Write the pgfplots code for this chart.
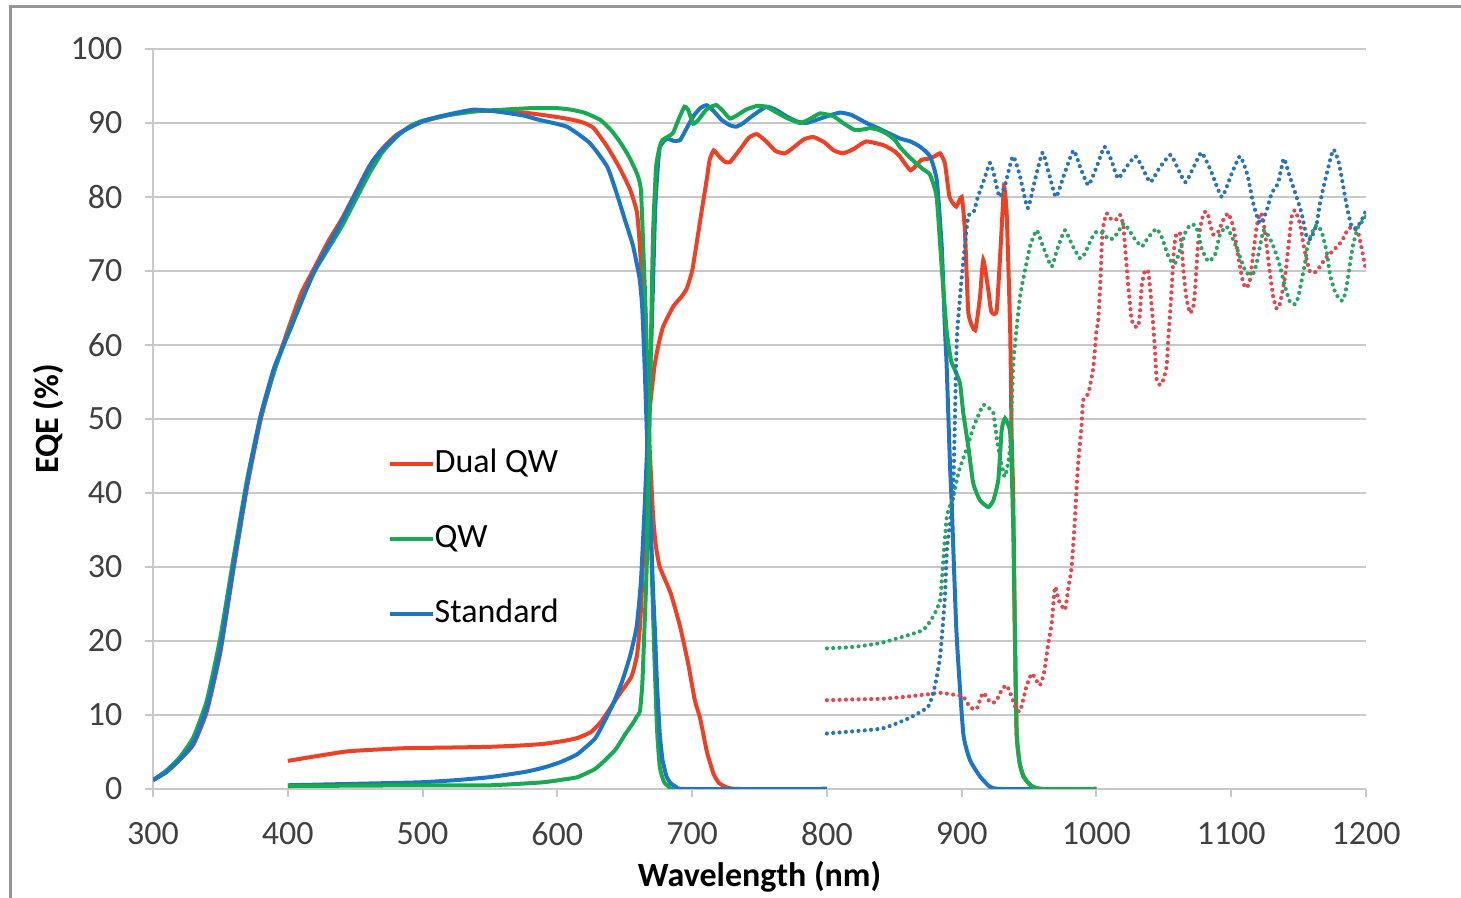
\documentclass[border=0pt]{standalone}
\usepackage{pgfplots}
\pgfplotsset{compat=1.18}
\usepackage{fontspec}
\setmainfont{Carlito}
\definecolor{cred}{RGB}{238,64,36}
\definecolor{cgreen}{RGB}{24,170,80}
\definecolor{cblue}{RGB}{28,118,196}
\definecolor{dred}{RGB}{228,70,80}
\definecolor{dgreen}{RGB}{40,165,100}
\definecolor{dblue}{RGB}{40,115,185}
\definecolor{gridc}{RGB}{200,200,200}
\definecolor{borderc}{RGB}{150,150,150}
\definecolor{labc}{RGB}{64,64,64}
\begin{document}
\begin{tikzpicture}
\useasboundingbox (0,0) rectangle (438.3pt,269.4pt);
\begin{scope}
\clip (0,0) rectangle (438.3pt,269.4pt);
\draw[draw=borderc, line width=0.9pt] (3pt,-10pt) rectangle (460pt,267.3pt);
\end{scope}
\begin{axis}[
  at={(45.9pt,32.7pt)}, anchor=south west,
  scale only axis, width=363.9pt, height=222pt,
  xmin=300, xmax=1200, ymin=0, ymax=100,
  xtick={300,400,...,1200}, ytick={0,10,...,100},
  axis lines=left, axis line style={-, draw=gridc, line width=0.6pt},
  ymajorgrids, grid style={draw=gridc, line width=0.6pt},
  tick align=outside, major tick length=2.4pt,
  tick style={draw=gridc, line width=0.6pt},
  /pgf/number format/assume math mode=true,
  /pgf/number format/set thousands separator={},
  ticklabel style={font=\fontsize{10.2}{12}\selectfont, text=labc},
  yticklabel style={inner sep=0pt, xshift=-6.6pt},
  xticklabel style={inner sep=0pt, yshift=-7.5pt},
  xlabel={\textbf{Wavelength (nm)}}, ylabel={\textbf{EQE (\%)}},
  label style={font=\fontsize{10.2}{12}\selectfont},
  xlabel style={at={(axis description cs:0.5,0)}, anchor=center, yshift=-26.2pt},
  ylabel style={at={(axis description cs:-0.0866,0.5)}, anchor=center},
  legend cell align=left,
  legend style={draw=none, fill=none, at={(0.1847,0.4695)}, anchor=north west,
    font=\fontsize{10.2}{12}\selectfont,
    nodes={inner sep=0pt, text height=7pt, text depth=2pt},
    row sep=13.5pt, column sep=0pt},
  legend image code/.code={\draw[#1, line width=1.2pt] (0pt,0pt) -- (12.9pt,0pt);},
  every axis plot/.append style={line width=1.2pt, smooth, tension=0.3},
  dots/.style={line width=1.25pt, line cap=round, dash pattern=on 0pt off 1.9pt},
]
\addlegendimage{cred}\addlegendentry{Dual QW}
\addlegendimage{cgreen}\addlegendentry{QW}
\addlegendimage{cblue}\addlegendentry{Standard}

% top cells
\addplot[cred, forget plot] coordinates {(300,1.2)(310,2.3)(320,4.0)(330,6.0)(340,10.5)(350,18.5)(360,30)(370,41)(380,50)(390,56.5)(400,62)(410,67)(420,70.5)(430,74)(440,77)(450,80.5)(460,84)(470,86.5)(480,88.3)(490,89.4)(500,90.2)(520,91.1)(540,91.6)(560,91.6)(580,91.3)(600,90.8)(612,90.4)(620,90.0)(627,89.3)(637,86.8)(646,84)(654,81)(659,78)(661,74)(663,68)(665,62)(668,48)(671,37)(673,33)(676,30)(684,26.5)(691,22)(697,17)(702,12)(706,9.5)(711,5)(716,2)(720,0.8)(726,0.2)(735,0)(800,0)};
\addplot[cgreen, forget plot] coordinates {(300,1.2)(310,2.5)(320,4.3)(330,7)(340,12)(350,20.5)(360,31.5)(370,42)(380,50.5)(390,56.5)(400,61.5)(410,66)(420,70)(430,73)(440,76)(450,79.5)(460,83)(470,86)(480,88)(490,89.5)(500,90.3)(520,91.1)(540,91.6)(560,91.8)(580,92)(600,92)(610,91.8)(620,91.4)(632,90.4)(640,89)(647,87.3)(653,85.5)(659,83.2)(662,81)(664,72)(666,62)(668,45)(670,30)(672,18)(674,8)(676,3)(679,1)(683,0.3)(690,0)(800,0)};
\addplot[cblue, forget plot] coordinates {(300,1.2)(310,2.3)(320,4)(330,6.2)(340,11)(350,19)(360,30.5)(370,41.5)(380,50.5)(390,57)(401.6,62)(419,69.7)(439,76.4)(463.5,85)(483,88.6)(500,90.2)(513,90.9)(537.6,91.8)(557,91.5)(575,91)(587,90.4)(607,89.5)(624,87.3)(637,84.1)(644,80.5)(650,77)(656,73.5)(661,69)(663,65)(665,56)(667,45)(669,37)(671,27)(672.5,21)(674,14)(676,7.5)(678,4)(681,1.7)(684,0.8)(688,0.3)(695,0)(800,0)};

% bottom cells
\addplot[cred, forget plot] coordinates {(400,3.8)(420,4.4)(445,5.1)(485,5.5)(520,5.6)(550,5.7)(575,5.9)(590,6.1)(605,6.5)(615,6.9)(625,7.7)(632,9)(637,10.3)(646,12.8)(655,15.2)(659,18)(661.3,21.9)(663,28)(664,33)(666.3,39)(668,50)(672,57)(675,60)(678.5,62.5)(686,65.2)(692,66.5)(696,67.6)(700,70)(703,73.3)(707,78)(710.8,82.3)(713,85)(716,86.3)(720,85.5)(724,84.8)(728,84.7)(735,86.3)(742,88)(748,88.5)(755,87.5)(762,86.2)(769,85.9)(776,86.8)(783,87.8)(790,88.1)(798,87.4)(805,86.3)(812,85.9)(820,86.5)(829,87.5)(842,87)(850,86.2)(854,85.5)(858,84.5)(862,83.6)(866,84.2)(870,85)(876,85.2)(880,85.5)(884,85.9)(887.6,84.5)(891,80)(896,78.7)(900,80)(902.4,75.5)(905,64.3)(910,62)(913.6,66.5)(916,71.5)(919.8,67.4)(922,64.5)(926,64.7)(929.6,75.5)(931.4,81.4)(933.4,77.8)(936,62)(937,48.5)(938.3,39)(939.5,21)(940.8,7.5)(943,3.5)(946,1.7)(950,0.7)(953,0.3)(960,0)(1000,0)};
\addplot[cblue, forget plot] coordinates {(400,0.5)(450,0.7)(497.7,0.9)(525,1.2)(549.7,1.6)(575.8,2.3)(590,2.9)(601.8,3.6)(614.8,4.7)(627.9,6.8)(634,8.8)(640.9,11.3)(648,14.5)(654,18)(658.8,21.9)(662,28)(665,39)(667.5,50)(670,62)(672.5,77.8)(674.5,84)(676.2,86.8)(681.2,87.9)(686,87.6)(691.1,87.7)(696,89.3)(700.9,90.9)(706,92)(710.8,92.4)(716,91.6)(722,90.4)(728,89.7)(732.8,89.5)(738,90)(745,91)(755.1,92.2)(762,91.8)(770,90.9)(778,90.2)(784.8,90)(792,90.4)(800,90.9)(809.7,91.4)(818,91.1)(829.4,90)(838,89.3)(846,88.6)(854.3,87.9)(862,87.5)(869.1,86.8)(876.5,85.5)(881.5,82.3)(885.2,73.3)(887.6,62)(888.8,57.5)(891.3,44)(892.5,39)(896.2,21)(901.2,7.5)(906.2,3.9)(913.6,1.7)(921,0.3)(930,0)(1000,0)};
\addplot[cgreen, forget plot] coordinates {(400,0.4)(450,0.45)(500,0.5)(550,0.5)(589,0.9)(605,1.3)(615,1.6)(628,2.7)(636,4)(643.5,5.4)(650,7.3)(656.5,9)(659,9.8)(661.3,10.5)(663,14)(664.3,20)(666.3,30)(668,45)(669.6,62)(671,75)(673.3,84.1)(676,86.8)(678,87.7)(685.6,88.6)(690,90.5)(694.3,92.2)(697,91.8)(700.9,89.9)(705,90.5)(710,91.7)(714,92.2)(718.2,92.4)(723,91.6)(728,90.6)(733,91)(740,91.8)(748,92.3)(755,92.2)(762,91.5)(770,90.7)(780,90)(787,90.5)(795,91.3)(805,90.9)(812,90)(820,89.1)(826,89.1)(832,89.3)(838,89.1)(844,88.6)(850,87.8)(854,86.8)(860,85.6)(866.6,84.5)(871,83.8)(876.5,83)(881.4,80)(885,71)(888.8,62)(892,58)(895,56.6)(898.8,54.8)(901.2,50.8)(904.9,46.3)(908.6,41.3)(913.6,39)(919.8,38.1)(923.5,39)(927.2,41.8)(929.7,48.5)(932.1,50.1)(935.8,48.5)(937,44)(938.3,35)(939.5,21)(940.8,7.5)(943,3.5)(945.7,1.7)(950,0.7)(953,0.3)(960,0)(1000,0)};

% dotted
\addplot[dred, dots, forget plot] coordinates {(800,12)(820,12.1)(842,12.2)(860,12.5)(875,12.8)(884,13)(892,12.8)(901,12.5)(906,11.1)(911,10.8)(915.8,13)(920,12)(923,11.6)(926,12)(930,13.5)(933.3,14)(936,13)(940,11)(943.3,10.5)(948,13.8)(951.9,15.6)(955,14.8)(958,14)(961,15.6)(964.3,19.7)(966.8,22.4)(969.2,27.3)(972,25.5)(976.6,24.2)(979,27)(981.6,30)(984,36.4)(986,43)(989,49.2)(990,52.5)(994,53.5)(997.7,57)(1000,62)(1001.2,63)(1003,68.8)(1003.9,73.3)(1005,76)(1007.6,77.8)(1011.3,76.9)(1015,77)(1017.5,77.6)(1019.9,76.2)(1021.2,73.3)(1022.4,70.6)(1023.6,67.9)(1024.9,65.6)(1026.1,63.4)(1028.6,62.5)(1031,62.5)(1032.3,64.3)(1033.5,67.9)(1036,70.1)(1038.4,69.9)(1039.7,67.9)(1041,65.2)(1042.2,62.5)(1043.5,59)(1044.7,55.3)(1047,54.6)(1049,55)(1052,57)(1053.4,61.1)(1054.6,64.3)(1055.9,67.9)(1057.1,71.9)(1058.3,74.2)(1059.6,75.1)(1062,75.1)(1063.2,73.3)(1064.5,70.1)(1065.7,67.9)(1067,66.1)(1069.4,64.3)(1071.9,65.2)(1073.1,67.4)(1074.4,71)(1075.6,74.2)(1078.1,76.9)(1080.6,78)(1082.5,77.8)(1084.2,76.4)(1086.7,74.9)(1090.4,75.3)(1094.1,76.9)(1097.8,77.8)(1101.5,76)(1104,73.3)(1106.5,70.6)(1109,68.3)(1111.4,67.7)(1113.9,68.8)(1116.4,72.4)(1118.9,76)(1121.3,77.8)(1123.5,77.2)(1126.2,73.5)(1128.7,69.7)(1131.2,66.5)(1133.7,64.9)(1136.2,65.6)(1139.9,69.2)(1142.4,73.3)(1144.8,77.3)(1147.3,78.2)(1151,76.4)(1153.5,73.7)(1156,71.5)(1158.4,69.9)(1162,69.8)(1165.8,70.6)(1170.8,71.9)(1177,73)(1181.9,74)(1186.8,75.7)(1190.5,75.9)(1194.3,75.1)(1196.8,73)(1199.2,70.8)(1200,70.5)};
\addplot[dgreen, dots, forget plot] coordinates {(800,19)(820,19.2)(839,19.7)(855,20.5)(871.5,21.5)(878.8,23.3)(884,25.5)(886,30)(889,36.8)(893.7,39.5)(898,43)(903.7,46)(908,48.5)(911,49.9)(916,51.9)(920,51.5)(923.5,50.8)(927,46.2)(932,42.2)(936,46.2)(938.3,57.5)(943.3,66.5)(948,71)(951,73.5)(955.6,75.5)(960,73.5)(966.7,70.6)(971,73)(976.6,75.5)(982,73.5)(987.8,71.7)(991.5,72.4)(996.4,74.4)(1000,75.3)(1005,75.1)(1008.8,74.3)(1012.5,74.4)(1016.2,75.3)(1019.9,76.4)(1023.6,75.7)(1027.3,74.6)(1033.5,73.3)(1037.2,74.2)(1041,75.1)(1044.7,75.7)(1048.4,74.6)(1052.1,72.6)(1054.6,71.5)(1058.3,71)(1062,72.8)(1065.7,75.1)(1069.4,76.2)(1073.1,76.2)(1075.6,75.1)(1078.1,73)(1083,71.3)(1088,72.2)(1091.6,74.9)(1096.6,76)(1101.5,74.2)(1105.2,72.6)(1107.7,71.3)(1111.4,69.7)(1116.4,69.7)(1118.8,71)(1121.3,73.3)(1123.8,75.5)(1126,75.2)(1128.7,74.4)(1132.4,72.8)(1136.2,70.6)(1139.9,67.9)(1143.6,65.8)(1147.3,65.5)(1149.8,66.5)(1152.3,68.8)(1154.7,71)(1156.5,73.3)(1159.7,75.1)(1163.4,76.2)(1167.1,75.3)(1170.8,72.6)(1173.3,69.5)(1177,67.2)(1180.7,66.1)(1183.2,66.1)(1185.6,67.9)(1188.1,71)(1190.6,73.7)(1194.3,76)(1199.2,77.1)(1200,77.5)};
\addplot[dblue, dots, forget plot] coordinates {(800,7.5)(820,7.8)(841.6,8.2)(860,9.5)(875,11.1)(880,13.8)(884,17.9)(887.6,26)(889,32.3)(891.5,36)(893.7,40)(896.3,60.2)(899,67)(901,71)(904.8,77.3)(909,78)(912,80)(915.8,81.9)(921,84.6)(924,83)(928,80)(932,81.5)(938,85.5)(943,83)(949,78.5)(954,82)(960,86)(965,83)(970,80)(976,83)(983,86.3)(988,84)(994,81.6)(1000,84)(1006,86.8)(1011,85)(1016,82.5)(1022,84)(1029,85.5)(1034,84)(1040,82)(1047,84)(1055,85.7)(1060,84)(1066,82)(1072,84)(1078,86)(1085,83.5)(1093,80)(1100,83)(1106.5,85.5)(1112,83)(1116.4,79.1)(1121.3,76.4)(1126,78)(1130,80.5)(1134.8,81.9)(1139,85.2)(1143,83)(1148.5,80)(1152.2,77.8)(1156,74.6)(1159,74.3)(1163.4,76.4)(1165.9,79.2)(1170,82.5)(1175.7,86.4)(1180,84.5)(1185.6,78.9)(1189.3,76)(1193,75.8)(1198,77.3)(1200,78.2)};
\end{axis}
\end{tikzpicture}
\end{document}
